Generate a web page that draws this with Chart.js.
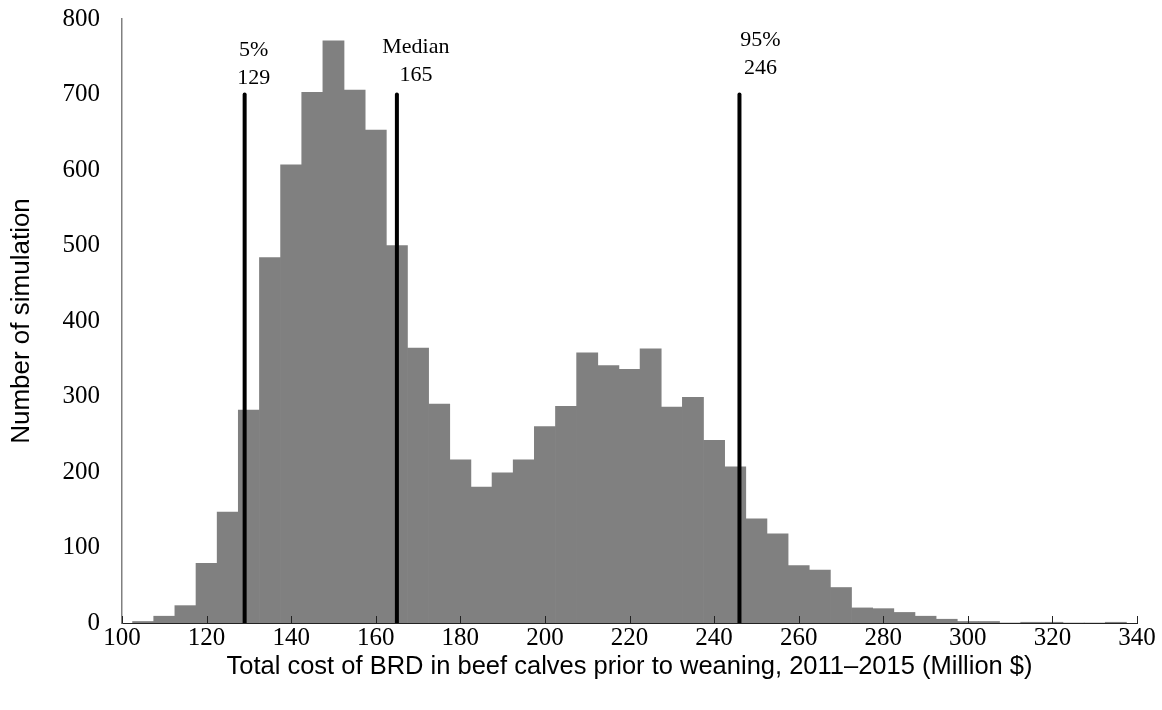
<!DOCTYPE html>
<html lang="en">
<head>
<meta charset="UTF-8">
<title>Total cost of BRD</title>
<script src="https://cdn.jsdelivr.net/npm/chart.js@4/dist/chart.umd.min.js"></script>
<style>
  body { margin: 0; padding: 0; background: #fff; }
  canvas { display: block; }
</style>
</head>
<body>
<canvas id="chart" width="1162" height="710"></canvas>
<script>
  // histogram bins (centre of each 5-unit bin) and counts
  var binCenters = [105, 110, 115, 120, 125, 130, 135, 140, 145, 150, 155, 160, 165, 170, 175,
    180, 185, 190, 195, 200, 205, 210, 215, 220, 225, 230, 235, 240, 245, 250, 255, 260,
    265, 270, 275, 280, 285, 290, 295, 300, 305, 310, 315, 320, 325, 330, 335];
  var counts = [2, 9, 23, 79, 147, 282, 484, 607, 703, 771, 706, 653, 500, 364, 290,
    216, 180, 199, 216, 260, 287, 358, 341, 336, 363, 286, 299, 242, 207, 138, 118, 76,
    70, 47, 20, 19, 14, 9, 5, 2, 2, 0, 1, 1, 0, 0, 1];

  // percentile markers
  var markerValues = [129, 165, 246];
  var markerTop = 700;
  var markerLabels = [['5%', '129'], ['Median', '165'], ['95%', '246']];

  var xTitle = 'Total cost of BRD in beef calves prior to weaning, 2011\u20132015 (Million $)';
  var yTitle = 'Number of simulation';

  var serif = "'Liberation Serif', 'Times New Roman', serif";
  var sans = "'Liberation Sans', Arial, sans-serif";

  var datasets = [{
    type: 'bar',
    data: binCenters.map(function(c, i) { return { x: c, y: counts[i] }; }),
    backgroundColor: '#808080',
    borderWidth: 0,
    barPercentage: 1,
    categoryPercentage: 1,
    order: 2
  }];
  markerValues.forEach(function(v) {
    datasets.push({
      type: 'line',
      data: [{ x: v, y: 0 }, { x: v, y: markerTop }],
      borderColor: '#000',
      borderWidth: 4,
      borderCapStyle: 'round',
      pointRadius: 0,
      order: 1
    });
  });

  // label positions relative to each marker line (pixels)
  var labelShift = [[9, 50, 78], [19, 47, 75], [21, 40, 68]];

  var markerText = {
    id: 'markerText',
    afterDraw: function(chart) {
      var ctx = chart.ctx;
      var xs = chart.scales.x;
      var area = chart.chartArea;
      ctx.save();
      // inward tick marks on the x axis
      ctx.strokeStyle = '#222';
      ctx.lineWidth = 1;
      xs.ticks.forEach(function(t) {
        var px = Math.round(xs.getPixelForValue(t.value)) + 0.5;
        ctx.beginPath();
        ctx.moveTo(px, area.bottom);
        ctx.lineTo(px, area.bottom - 7);
        ctx.stroke();
      });
      ctx.fillStyle = '#000';
      ctx.font = '22px ' + serif;
      ctx.textAlign = 'center';
      ctx.textBaseline = 'middle';
      markerValues.forEach(function(v, i) {
        var px = xs.getPixelForValue(v) + labelShift[i][0];
        ctx.fillText(markerLabels[i][0], px, labelShift[i][1]);
        ctx.fillText(markerLabels[i][1], px, labelShift[i][2]);
      });
      ctx.restore();
    }
  };

  var ctx = document.getElementById('chart').getContext('2d');
  var chart = new Chart(ctx, {
    data: { datasets: datasets },
    plugins: [markerText],
    options: {
      responsive: false,
      animation: false,
      layout: { padding: { left: 0, right: 25, top: 19, bottom: 0 } },
      plugins: {
        legend: { display: false },
        tooltip: { enabled: false }
      },
      scales: {
        x: {
          type: 'linear',
          min: 100,
          max: 340,
          offset: false,
          grid: { display: false, offset: false, drawTicks: false },
          border: { display: true, color: '#222', width: 1 },
          ticks: {
            stepSize: 20,
            padding: 0,
            color: '#000',
            maxRotation: 0,
            font: { family: serif, size: 25 }
          },
          title: {
            display: true,
            text: xTitle,
            color: '#000',
            font: { family: sans, size: 25.5 },
            padding: { top: 0, bottom: 28 }
          },
          afterFit: function(scale) {
            scale.height = 87;
            scale.paddingLeft = 0;
            scale.paddingRight = 0;
          }
        },
        y: {
          min: 0,
          max: 800,
          grid: { display: false, drawTicks: false },
          border: { display: true, color: '#808080', width: 1.5 },
          ticks: {
            stepSize: 100,
            padding: 22,
            color: '#000',
            font: { family: serif, size: 25 }
          },
          title: {
            display: true,
            text: yTitle,
            color: '#000',
            font: { family: sans, size: 26 },
            padding: { top: 6, bottom: 0 }
          },
          afterFit: function(scale) {
            scale.width = 122;
            scale.paddingTop = 0;
            scale.paddingBottom = 0;
          }
        }
      }
    }
  });
</script>
</body>
</html>
